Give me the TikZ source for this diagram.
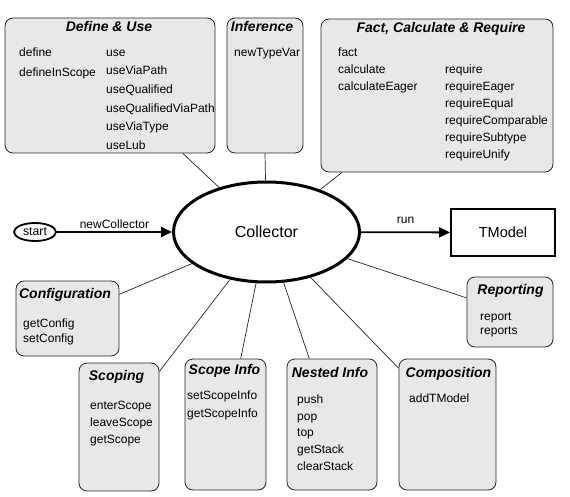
\documentclass[tikz,border=0pt]{standalone}
\usepackage{fontspec}
\setmainfont{Liberation Sans}
\usetikzlibrary{shapes.geometric,arrows.meta}

\colorlet{box edge}{black!85}
\colorlet{box area}{gray!18}
\tikzset{
  groupbox/.style={draw=box edge, fill=box area, rounded corners=8pt, line width=0.8pt, inner sep=0pt},
  grouptitle/.style={font=\fontsize{14}{16}\selectfont\bfseries\itshape, anchor=base, inner sep=0pt},
  items/.style={font=\fontsize{12}{#1}\selectfont, align=left, anchor=base west, inner sep=0pt},
  items/.default=17
  }
\tikzstyle{link} = [draw=box edge, line width=0.7pt]
\tikzstyle{flow} = [draw, line width=1.8pt, -{Triangle[length=11pt,width=10pt]}]
\tikzstyle{label} = [font=\fontsize{12}{14}\selectfont, inner sep=0pt]

\begin{document}
\begin{tikzpicture}[x=1pt,y=-1pt]
   \useasboundingbox (0,0) rectangle (570,497);

   % the boxes round the collector
   \node[groupbox, minimum width=210pt, minimum height=135pt] (defuse) at (110,85.5) {};
   \node[groupbox, minimum width=76pt, minimum height=135pt] (infer) at (265,85.5) {};
   \node[groupbox, minimum width=232pt, minimum height=153pt] (fact) at (437,95.5) {};
   \node[groupbox, minimum width=103pt, minimum height=75pt] (config) at (67.5,318.5) {};
   \node[groupbox, minimum width=86pt, minimum height=70pt] (report) at (510,312) {};
   \node[groupbox, minimum width=80pt, minimum height=128pt] (scoping) at (119,427) {};
   \node[groupbox, minimum width=81pt, minimum height=131pt] (scopeinfo) at (225.5,424.5) {};
   \node[groupbox, minimum width=90pt, minimum height=131pt] (nested) at (332,424.5) {};
   \node[groupbox, minimum width=97pt, minimum height=131pt] (compo) at (447.5,424.5) {};

   \node[grouptitle] (defuseT) at (109,32) {Define \& Use};
   \node[grouptitle] (inferT) at (262,32) {Inference};
   \node[grouptitle] (factT) at (441,33) {Fact, Calculate \& Require};
   \node[grouptitle] (configT) at (65,298) {Configuration};
   \node[grouptitle] (reportT) at (510.5,294) {Reporting};
   \node[grouptitle] (scopingT) at (116.5,380) {Scoping};
   \node[grouptitle] (scopeinfoT) at (224.5,374) {Scope Info};
   \node[grouptitle] (nestedT) at (330,377) {Nested Info};
   \node[grouptitle] (compoT) at (448.5,377) {Composition};

   % lists sit on the baseline of their last line
   \node[items=20] (defuseA) at (19,76.3) {define\\defineInScope};
   \node[items=18.6] (defuseB) at (106,149.3) {use\\useViaPath\\useQualified\\useQualifiedViaPath\\useViaType\\useLub};
   \node[items] (inferA) at (234,56.3) {newTypeVar};
   \node[items] (factA) at (338,90.3) {fact\\calculate\\calculateEager};
   \node[items] (factB) at (445,158.3) {require\\requireEager\\requireEqual\\requireComparable\\requireSubtype\\requireUnify};
   \node[items=15] (configA) at (23,342.3) {getConfig\\setConfig};
   \node[items=14] (reportA) at (480,334.3) {report\\reports};
   \node[items] (scopingA) at (90,443.3) {enterScope\\leaveScope\\getScope};
   \node[items=18] (scopeinfoA) at (187,417.3) {setScopeInfo\\getScopeInfo};
   \node[items=16.75] (nestedA) at (297,470.3) {push\\pop\\top\\getStack\\clearStack};
   \node[items] (compoA) at (409,402.3) {addTModel};

   \node[ellipse, draw, line width=3pt, minimum width=186pt, minimum height=100pt,
         font=\fontsize{16}{19}\selectfont] (coll) at (266.5,232) {Collector};
   \node[ellipse, draw, line width=1.8pt, minimum width=42pt, minimum height=18pt,
         inner sep=0pt, font=\fontsize{12.3}{14}\selectfont] (start) at (35,232) {start};
   \node[rectangle, draw, line width=1.8pt, minimum width=104pt, minimum height=47pt,
         font=\fontsize{14.5}{17}\selectfont] (tmodel) at (503,232.5) {TModel};

   \path[flow] (start) -- node[label, above=2.5pt] (newlbl) {newCollector} (coll);
   \path[flow] (coll) -- node[label, above=7.5pt] (runlbl) {run} (tmodel);

   \path[link] (coll) -- (defuse.-43);
   \path[link] (coll) -- (infer.south);
   \path[link] (coll) -- (fact.219);
   \path[link] (coll) -- (config.25);
   \path[link] (coll) -- (report.162);
   \path[link] (coll) -- (scoping.54);
   \path[link] (coll) -- (scopeinfo.77);
   \path[link] (coll) -- (nested.109);
   \path[link] (coll) -- (compo.131);
\end{tikzpicture}
\end{document}
